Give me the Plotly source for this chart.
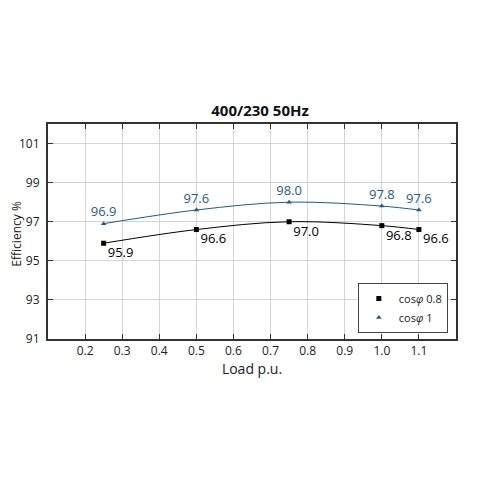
import plotly.graph_objects as go

# Load p.u. and efficiency values
load = [0.25, 0.5, 0.75, 1.0, 1.1]
eff_cos08 = [95.9, 96.6, 97.0, 96.8, 96.6]
eff_cos1 = [96.9, 97.6, 98.0, 97.8, 97.6]

x_ticks = [0.2, 0.3, 0.4, 0.5, 0.6, 0.7, 0.8, 0.9, 1.0, 1.1]
y_ticks = [91, 93, 95, 97, 99, 101]

names = ["cos<i>φ</i> 0.8", "cos<i>φ</i> 1"]
blue = "#1f5b8c"

fig = go.Figure()

fig.add_trace(go.Scatter(
    x=load, y=eff_cos08,
    mode="lines+markers+text",
    line=dict(color="black", width=1, shape="spline"),
    marker=dict(symbol="square", size=5, color="black"),
    text=[f"{v:.1f}" for v in eff_cos08],
    textposition="bottom right",
    textfont=dict(color="black", size=13),
    showlegend=False,
))

fig.add_trace(go.Scatter(
    x=load, y=eff_cos1,
    mode="lines+markers+text",
    line=dict(color=blue, width=1, shape="spline"),
    marker=dict(symbol="triangle-up", size=5, color=blue),
    text=[f"{v:.1f}" for v in eff_cos1],
    textposition="top center",
    textfont=dict(color=blue, size=13),
    showlegend=False,
))

# legend entries show markers only
fig.add_trace(go.Scatter(x=[None], y=[None], mode="markers", name=names[0],
                         marker=dict(symbol="square", size=5, color="black")))
fig.add_trace(go.Scatter(x=[None], y=[None], mode="markers", name=names[1],
                         marker=dict(symbol="triangle-up", size=5, color=blue)))

fig.update_layout(
    width=480, height=480,
    paper_bgcolor="white", plot_bgcolor="white",
    font=dict(family="Open Sans", size=12, color="#222"),
    title=dict(text="<b>400/230 50Hz</b>", x=0.525, xanchor="center",
               y=0.785, yanchor="middle", font=dict(size=15, color="#111")),
    margin=dict(l=40, r=32, t=116, b=149),
    showlegend=True,
    legend=dict(x=0.98, y=0.028, xanchor="right", yanchor="bottom",
                bordercolor="#444", borderwidth=1, bgcolor="white",
                font=dict(size=11), itemwidth=30, tracegroupgap=0),
)

# y-axis title as annotation so it can sit further out
fig.add_annotation(text="Efficiency %", textangle=-90, showarrow=False,
                   xref="paper", yref="paper", x=-0.076, y=0.49,
                   xanchor="center", yanchor="middle",
                   font=dict(size=12, color="#222"))

fig.update_xaxes(
    range=[0.1, 1.2], tickvals=x_ticks, automargin=False,
    ticktext=[f"{v:.1f}" for v in x_ticks],
    title=dict(text="Load p.u.", standoff=4),
    showgrid=True, gridcolor="#d4d4d4", gridwidth=1,
    showline=True, linecolor="#333", linewidth=2, mirror="ticks",
    ticks="inside", ticklen=5, tickcolor="#333", zeroline=False,
)
fig.update_yaxes(
    range=[91, 102], tickvals=y_ticks, automargin=False,
    ticklabelstandoff=4,
    showgrid=True, gridcolor="#d4d4d4", gridwidth=1,
    showline=True, linecolor="#333", linewidth=2, mirror="ticks",
    ticks="inside", ticklen=5, tickcolor="#333", zeroline=False,
)

fig.write_html("out.html")
